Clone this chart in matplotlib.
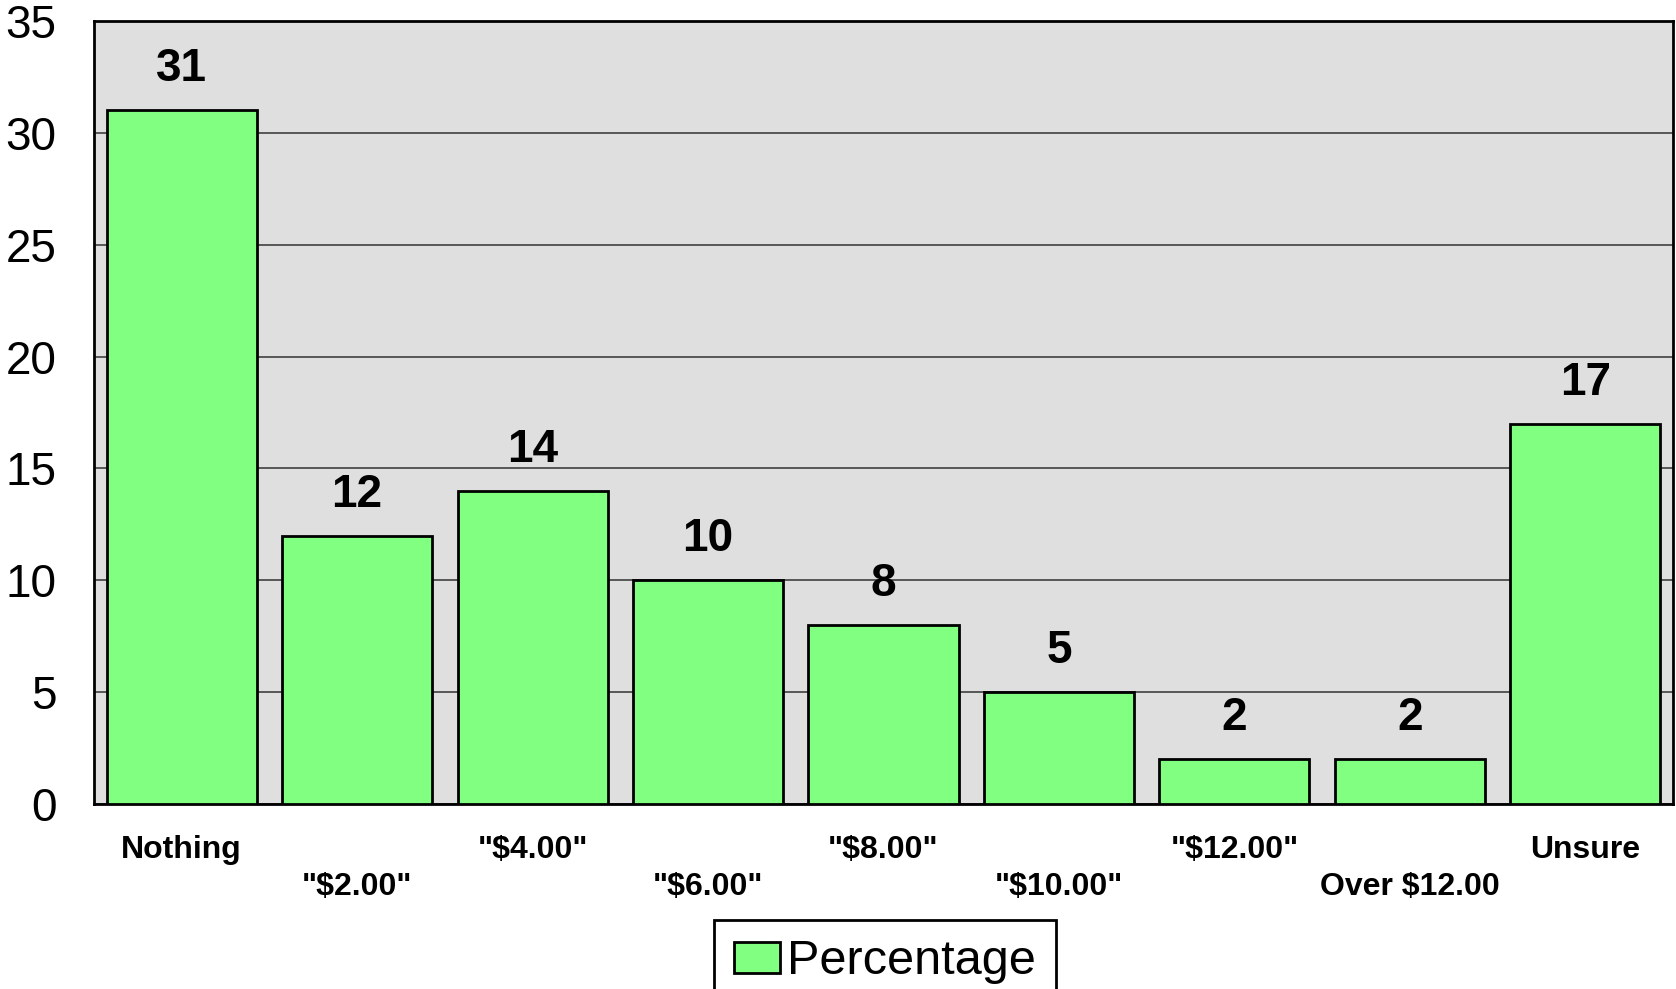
import matplotlib
matplotlib.use("Agg")
import matplotlib.pyplot as plt
import numpy as np

# Survey answers and their share (%)
categories = ['Nothing', '"$2.00"', '"$4.00"', '"$6.00"', '"$8.00"',
              '"$10.00"', '"$12.00"', 'Over $12.00', 'Unsure']
percentages = [31, 12, 14, 10, 8, 5, 2, 2, 17]
y_ticks = [0, 5, 10, 15, 20, 25, 30, 35]

plt.rcParams['font.family'] = ['Liberation Sans', 'DejaVu Sans']

fig = plt.figure(figsize=(16.76, 9.89), dpi=100)
ax = fig.add_axes([94 / 1676, 1 - 804 / 989, (1673 - 94) / 1676, (804 - 21) / 989])
ax.set_facecolor('#dfdfdf')

x = np.arange(len(categories))
bars = ax.bar(x, percentages, width=0.855, color='#80ff80', edgecolor='black',
              linewidth=2, label='Percentage', zorder=3)

# value labels above the bars
for xi, v in zip(x, percentages):
    ax.text(xi, v + 0.85, str(v), ha='center', va='bottom', fontsize=33,
            fontweight='bold', zorder=4)

ax.set_xlim(-0.5, len(categories) - 0.5)
ax.set_ylim(0, 35)
ax.set_yticks(y_ticks)
ax.tick_params(axis='y', length=0, pad=27, labelsize=33)
ax.yaxis.grid(True, color='#404040', linewidth=1.2, zorder=1)
ax.set_axisbelow(True)

ax.set_xticks(x)
ax.set_xticklabels(categories, fontsize=23, fontweight='bold')
ax.tick_params(axis='x', length=0)
# staggered category labels
for i, tick in enumerate(ax.xaxis.get_major_ticks()):
    tick.set_pad(22 if i % 2 == 0 else 49)

for sp in ax.spines.values():
    sp.set_linewidth(2)
    sp.set_color('black')

leg = fig.legend(handles=[bars], labels=['Percentage'], loc='upper center',
                 bbox_to_anchor=(0.528, 1 - 920 / 989), fontsize=35,
                 fancybox=False, framealpha=1, edgecolor='black',
                 handlelength=0.95, handleheight=0.6, handletextpad=0.15,
                 borderpad=0.4, borderaxespad=0)
leg.get_frame().set_linewidth(2)

fig.savefig('out.png', dpi=100)
